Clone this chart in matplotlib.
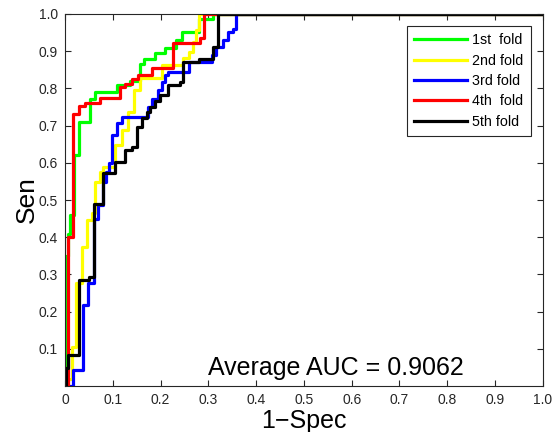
import matplotlib
matplotlib.use("Agg")
import matplotlib.pyplot as plt

plt.rcParams["font.family"] = ["Liberation Sans", "DejaVu Sans"]

# ROC vertices per fold: (fpr where the curve rises, tpr reached)
fold_names = ["1st  fold", "2nd fold", "3rd fold", "4th  fold", "5th fold"]
fold_colors = ["#00ff00", "#ffff00", "#0000ff", "#ff0000", "#000000"]

fpr1 = [0.002, 0.002, 0.006, 0.011, 0.019, 0.029, 0.053, 0.063, 0.109, 0.137, 0.158, 0.166,
        0.189, 0.21, 0.232, 0.246, 0.28, 0.309, 1.0]
tpr1 = [0.0, 0.35, 0.41, 0.46, 0.62, 0.71, 0.77, 0.79, 0.81, 0.82, 0.866, 0.88,
        0.895, 0.909, 0.93, 0.952, 0.985, 1.0, 1.0]

fpr2 = [0.006, 0.006, 0.015, 0.023, 0.036, 0.046, 0.057, 0.063, 0.074, 0.08, 0.105, 0.12,
        0.133, 0.145, 0.157, 0.204, 0.248, 0.259, 0.267, 0.274, 0.28, 1.0]
tpr2 = [0.0, 0.02, 0.105, 0.277, 0.374, 0.445, 0.465, 0.548, 0.575, 0.59, 0.648, 0.688,
        0.737, 0.796, 0.828, 0.862, 0.882, 0.898, 0.925, 0.957, 1.0, 1.0]

fpr3 = [0.0, 0.017, 0.038, 0.048, 0.061, 0.069, 0.08, 0.086, 0.092, 0.099, 0.109, 0.12,
        0.173, 0.183, 0.194, 0.204, 0.21, 0.215, 0.26, 0.307, 0.316, 0.33, 0.341, 0.352,
        0.358, 1.0]
tpr3 = [0.0, 0.043, 0.218, 0.277, 0.45, 0.487, 0.548, 0.575, 0.60, 0.675, 0.707, 0.723,
        0.75, 0.77, 0.796, 0.817, 0.836, 0.845, 0.871, 0.89, 0.91, 0.93, 0.95, 0.96,
        1.0, 1.0]

fpr4 = [0.006, 0.006, 0.017, 0.029, 0.042, 0.074, 0.116, 0.126, 0.141, 0.152, 0.183, 0.227,
        0.282, 0.29, 1.0]
tpr4 = [0.0, 0.40, 0.73, 0.752, 0.76, 0.774, 0.804, 0.812, 0.825, 0.836, 0.855, 0.922,
        0.935, 1.0, 1.0]

fpr5 = [0.002, 0.002, 0.006, 0.029, 0.05, 0.061, 0.08, 0.105, 0.126, 0.141, 0.15, 0.162,
        0.171, 0.177, 0.189, 0.198, 0.215, 0.24, 0.248, 0.28, 0.31, 0.32, 1.0]
tpr5 = [0.0, 0.05, 0.083, 0.285, 0.293, 0.49, 0.573, 0.602, 0.634, 0.642, 0.697, 0.72,
        0.737, 0.75, 0.766, 0.782, 0.808, 0.818, 0.871, 0.88, 0.91, 1.0, 1.0]

fprs = [fpr1, fpr2, fpr3, fpr4, fpr5]
tprs = [tpr1, tpr2, tpr3, tpr4, tpr5]
avg_auc = 0.9062

xticks = [0, 0.1, 0.2, 0.3, 0.4, 0.5, 0.6, 0.7, 0.8, 0.9, 1.0]
xtick_labels = ["0", "0.1", "0.2", "0.3", "0.4", "0.5", "0.6", "0.7", "0.8", "0.9", "1.0"]
yticks = [0.1, 0.2, 0.3, 0.4, 0.5, 0.6, 0.7, 0.8, 0.9, 1.0]
ytick_labels = ["0.1", "0.2", "0.3", "0.4", "0.5", "0.6", "0.7", "0.8", "0.9", "1.0"]

fig = plt.figure(figsize=(5.55, 4.32), dpi=100)
ax = fig.add_axes([0.117, 0.106, 0.861, 0.862])

for fpr, tpr, name, col in zip(fprs, tprs, fold_names, fold_colors):
    ax.plot(fpr, tpr, drawstyle="steps-post", color=col, lw=2.3, label=name)

ax.set_xlim(0, 1)
ax.set_ylim(0, 1)
ax.set_xticks(xticks)
ax.set_xticklabels(xtick_labels)
ax.set_yticks(yticks)
ax.set_yticklabels(ytick_labels)
ax.tick_params(direction="in", top=True, right=True, labelsize=10, length=4, width=0.8,
               colors="#262626", pad=5)
for s in ax.spines.values():
    s.set_linewidth(0.8)
    s.set_color("#262626")

ax.set_xlabel("1\u2212Spec", fontsize=18, labelpad=1)
ax.set_ylabel("Sen", fontsize=19, labelpad=0)
ax.text(0.3, 0.048, f"Average AUC = {avg_auc:.4f}", fontsize=18, va="center", ha="left")

leg = ax.legend(loc="upper right", fontsize=10.3, fancybox=False, framealpha=1,
                edgecolor="#262626", handlelength=3.7, handletextpad=0.35,
                labelspacing=0.45, borderaxespad=0.85, borderpad=0.5)
leg.get_frame().set_linewidth(0.8)

fig.savefig("out.png", dpi=100)
